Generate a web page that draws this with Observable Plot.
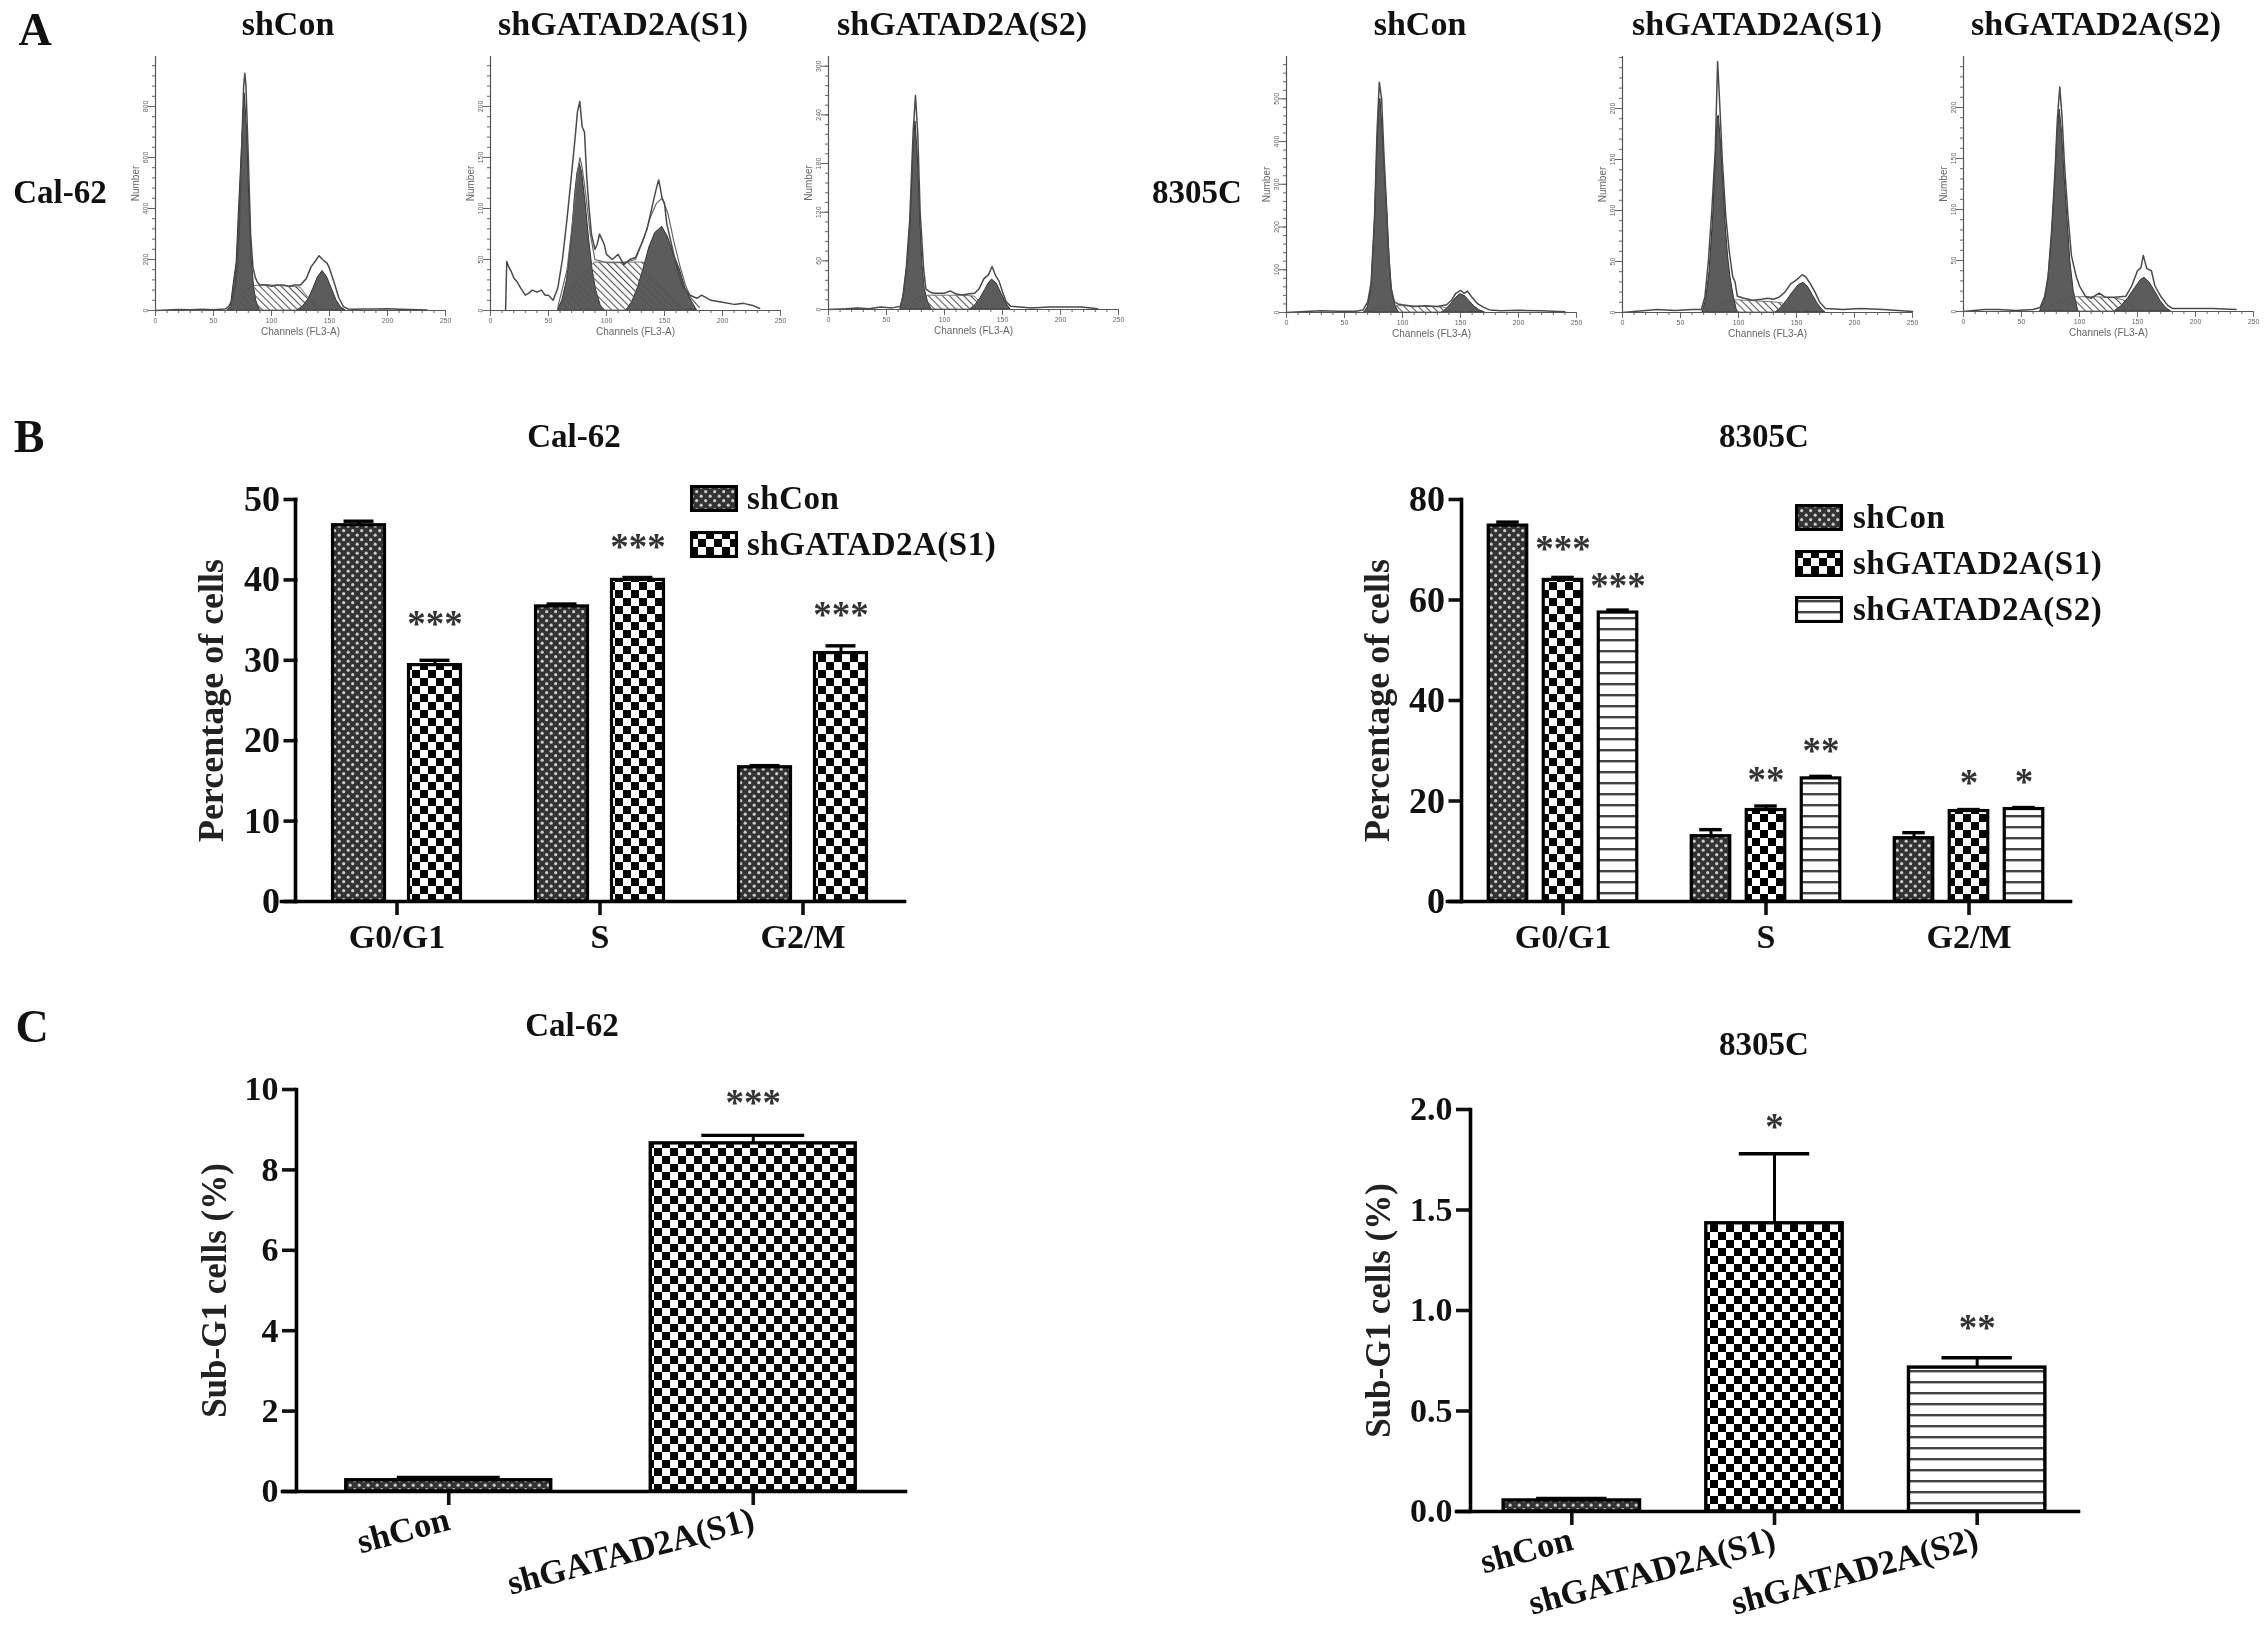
<!DOCTYPE html>
<html>
<head>
<meta charset="utf-8">
<script src="https://cdn.jsdelivr.net/npm/d3@7"></script>
<script src="https://cdn.jsdelivr.net/npm/@observablehq/plot@0.6"></script>
<style>
html,body{margin:0;padding:0;background:#fff}
#root{position:relative;width:2268px;height:1632px;overflow:hidden;font-family:"Liberation Serif",serif;font-weight:bold;color:#111;filter:blur(.55px)}
.lbl{position:absolute;white-space:nowrap;transform:translate(-50%,-50%);line-height:1}
.lbl.left{transform:translateY(-50%);letter-spacing:.5px}
.swatch{position:absolute}
</style>
</head>
<body>
<svg width="0" height="0" style="position:absolute">
  <defs>
    <pattern id="pCon" patternUnits="userSpaceOnUse" width="9" height="9">
      <rect width="9" height="9" fill="#333"/>
      <circle cx="2.2" cy="2.2" r="1.6" fill="#ccc"/>
      <circle cx="6.7" cy="6.7" r="1.6" fill="#ccc"/>
    </pattern>
    <pattern id="pS1" patternUnits="userSpaceOnUse" width="16" height="16">
      <rect width="16" height="16" fill="#fff"/>
      <rect width="8" height="8" fill="#000"/>
      <rect x="8" y="8" width="8" height="8" fill="#000"/>
    </pattern>
    <pattern id="pS2" patternUnits="userSpaceOnUse" width="11" height="11">
      <rect width="11" height="11" fill="#fff"/>
      <rect y="4" width="11" height="2.4" fill="#444"/>
    </pattern>
    <pattern id="pHatch" patternUnits="userSpaceOnUse" width="5" height="5" patternTransform="rotate(-45)">
      <rect x="0" y="0" width="1.1" height="5" fill="#555"/>
    </pattern>
  </defs>
</svg>
<div id="root"></div>
<script>
// ---------- Panel B / C data ----------
const phases = ["G0/G1", "S", "G2/M"];
const groupsAll = ["shCon", "shGATAD2A(S1)", "shGATAD2A(S2)"];
const groupsTwo = ["shCon", "shGATAD2A(S1)"];

const cycleCalValues = [[46.8, 29.4], [36.7, 40.0], [16.7, 30.9]];
const cycleCalErrors = [[47.3, 30.0], [37.0, 40.3], [16.9, 31.8]];
const cycleCalStars  = [[null, "***"], [null, "***"], [null, "***"]];
const cycleCalStarY  = [[null, 35.2], [null, 44.8], [null, 36.3]];
const cycleCalTicks  = [0, 10, 20, 30, 40, 50];

const cycle83Values = [[74.8, 64.0, 57.5], [13.0, 18.2, 24.5], [12.6, 18.0, 18.4]];
const cycle83Errors = [[75.5, 64.5, 58.0], [14.3, 19.0, 24.9], [13.7, 18.3, 18.7]];
const cycle83Stars  = [[null, "***", "***"], [null, "**", "**"], [null, "*", "*"]];
const cycle83StarY  = [[null, 71.4, 63.9], [null, 25.3, 31.2], [null, 24.8, 25.0]];
const cycle83Ticks  = [0, 20, 40, 60, 80];

const subCalValues = [0.28, 8.66];
const subCalErrors = [0.35, 8.86];
const subCalStars  = [null, "***"];
const subCalStarY  = [null, 9.8];
const subCalTicks  = [0, 2, 4, 6, 8, 10];

const sub83Values = [0.055, 1.434, 0.716];
const sub83Errors = [0.065, 1.78, 0.765];
const sub83Stars  = [null, "*", "**"];
const sub83StarY  = [null, 1.94, 0.94];
const sub83Ticks  = [0, 0.5, 1, 1.5, 2];

// ---------- Panel A data: [channel, count] ----------
const cal1G1 = [[62,0],[65,15],[67,90],[70,190],[72,400],[75,680],[77,850],[79,700],[81,420],[83,200],[85,90],[87,35],[90,0]];
const cal1S  = [[63,0],[68,30],[75,70],[84,95],[95,100],[110,95],[125,90],[130,60],[135,35],[142,15],[150,0]];
const cal1G2 = [[122,0],[127,15],[132,45],[136,85],[140,130],[144,155],[148,130],[152,85],[156,40],[160,12],[164,0]];
const cal1Raw = [[0,0],[10,2],[20,4],[30,3],[40,5],[50,3],[60,6],[63,15],[66,40],[69,100],[72,300],[74,600],[76,880],[77,930],[78,880],[80,600],[82,300],[84,170],[86,130],[88,110],[90,100],[95,100],[100,95],[105,100],[110,100],[115,95],[120,100],[125,100],[130,125],[134,170],[138,195],[141,215],[144,200],[148,185],[150,165],[154,110],[158,50],[162,15],[166,6],[170,5],[180,6],[190,6],[200,7],[210,5],[220,4],[234,2]];

const cal2G1 = [[58,0],[62,10],[66,30],[70,70],[73,115],[75,135],[77,144],[79,135],[82,105],[85,70],[88,40],[91,20],[95,5],[98,0]];
const cal2S  = [[58,0],[64,10],[72,25],[82,38],[90,47],[105,47],[120,47],[132,47],[140,33],[150,20],[160,7],[168,0]];
const cal2G2 = [[117,0],[122,8],[127,22],[132,41],[137,62],[142,76],[148,82],[153,72],[158,55],[163,41],[168,22],[173,10],[178,0]];
const cal2Fit = [[58,3],[66,40],[72,100],[75,135],[77,150],[79,140],[82,115],[86,75],[90,50],[100,47],[115,47],[125,50],[132,70],[138,92],[143,105],[148,110],[153,95],[158,68],[163,45],[168,25],[173,12],[180,3]];
const cal2Raw = [[13,0],[14,48],[16,42],[18,38],[20,32],[23,28],[26,22],[30,15],[33,17],[36,20],[40,18],[44,20],[47,15],[50,15],[54,10],[58,22],[62,50],[66,90],[70,135],[73,170],[75,195],[77,205],[79,180],[81,175],[83,130],[85,100],[87,75],[90,60],[92,65],[94,75],[96,70],[98,65],[100,55],[105,50],[110,55],[115,45],[120,50],[125,52],[130,65],[135,80],[140,105],[143,120],[145,128],[148,110],[150,105],[152,85],[156,65],[160,45],[165,25],[172,15],[178,12],[182,15],[190,10],[200,8],[210,6],[218,7],[226,5],[232,2]];

const cal3G1 = [[62,0],[65,20],[68,55],[71,115],[73,190],[75,232],[77,190],[79,115],[81,55],[83,25],[86,8],[89,0]];
const cal3S  = [[63,0],[68,5],[74,12],[80,15],[86,17],[100,17],[115,17],[126,16],[130,10],[136,5],[142,2],[148,0]];
const cal3G2 = [[122,0],[127,6],[131,14],[135,24],[138,32],[141,37],[145,32],[149,20],[153,8],[157,0]];
const cal3Raw = [[0,0],[15,1],[25,2],[35,1],[45,3],[55,2],[62,4],[64,15],[67,50],[70,110],[73,220],[75,264],[77,215],[79,120],[82,50],[84,25],[87,22],[90,20],[95,20],[100,20],[105,23],[110,19],[115,18],[120,19],[126,20],[130,26],[134,38],[138,43],[141,53],[144,42],[147,35],[150,22],[153,10],[157,4],[165,3],[175,2],[190,3],[205,3],[218,3],[232,1]];

const e1G1 = [[67,0],[70,12],[73,50],[76,200],[78,360],[80,490],[81,500],[83,420],[85,320],[87,230],[89,120],[91,50],[94,15],[97,0]];
const e1S  = [[68,0],[75,6],[85,12],[94,15],[110,14],[125,13],[135,12],[140,8],[146,4],[152,2],[158,0]];
const e1G2 = [[134,0],[138,8],[142,20],[146,34],[150,43],[154,38],[158,26],[162,14],[166,6],[171,0]];
const e1Raw = [[0,0],[20,3],[30,4],[45,3],[60,3],[66,6],[70,25],[73,70],[76,230],[78,420],[80,539],[82,500],[84,370],[86,260],[88,140],[90,60],[93,25],[96,20],[100,18],[110,14],[120,16],[130,14],[138,18],[142,28],[146,45],[150,52],[153,45],[156,50],[160,35],[165,20],[170,12],[175,6],[185,4],[200,5],[220,4],[240,2]];

const e2G1 = [[69,0],[72,12],[75,40],[78,90],[80,140],[82,190],[83,193],[85,165],[87,125],[89,85],[91,55],[93,35],[96,15],[99,0]];
const e2S  = [[70,0],[80,6],[90,12],[98,12],[115,11],[130,10],[138,9],[144,5],[150,2],[156,0]];
const e2G2 = [[132,0],[137,5],[142,12],[147,20],[152,27],[156,29],[160,25],[164,17],[168,9],[172,3],[175,0]];
const e2Raw = [[0,0],[20,2],[30,3],[45,2],[60,3],[68,3],[71,15],[74,50],[77,100],[80,160],[82,246],[84,200],[86,150],[89,95],[92,60],[95,35],[97,30],[99,16],[105,14],[112,12],[120,13],[125,14],[130,13],[135,15],[140,20],[145,28],[150,32],[155,37],[158,35],[162,28],[166,20],[170,10],[175,4],[190,3],[205,4],[225,3],[250,1]];

const e3G1 = [[66,0],[70,10],[73,30],[76,70],[79,125],[81,175],[83,198],[85,175],[87,135],[90,85],[92,50],[95,20],[99,0]];
const e3S  = [[68,0],[78,7],[90,14],[100,14],[115,14],[130,13],[138,11],[145,6],[152,2],[160,0]];
const e3G2 = [[130,0],[136,5],[142,13],[148,23],[153,31],[156,33],[160,29],[165,20],[170,10],[175,3],[179,0]];
const e3Raw = [[0,0],[18,2],[30,2],[45,1],[60,2],[66,4],[70,15],[73,35],[76,80],[79,140],[81,190],[83,220],[85,190],[87,145],[90,95],[93,55],[97,35],[100,25],[105,15],[110,13],[117,18],[122,14],[130,14],[140,15],[145,25],[150,40],[153,43],[155,55],[158,42],[162,40],[165,25],[170,15],[176,6],[180,3],[195,3],[215,3],[235,2]];

const flowXTicks = [0, 50, 100, 150, 200, 250];
const flowXMinor = [0,10,20,30,40,50,60,70,80,90,100,110,120,130,140,150,160,170,180,190,200,210,220,230,240,250];

const flowPanels = [
  {axisX:155,  base:310, top:56, yMax:996, yTicks:[0,200,400,600,800], g1:cal1G1, s:cal1S, g2:cal1G2, raw:cal1Raw},
  {axisX:490,  base:310, top:56, yMax:249, yTicks:[0,50,100,150,200],  g1:cal2G1, s:cal2S, g2:cal2G2, raw:cal2Raw, fit:cal2Fit},
  {axisX:828,  base:309, top:56, yMax:312, yTicks:[0,60,120,180,240,300], g1:cal3G1, s:cal3S, g2:cal3G2, raw:cal3Raw},
  {axisX:1286, base:312, top:56, yMax:599, yTicks:[0,100,200,300,400,500], g1:e1G1, s:e1S, g2:e1G2, raw:e1Raw},
  {axisX:1622, base:312, top:56, yMax:251, yTicks:[0,50,100,150,200], g1:e2G1, s:e2S, g2:e2G2, raw:e2Raw},
  {axisX:1963, base:311, top:56, yMax:250, yTicks:[0,50,100,150,200], g1:e3G1, s:e3S, g2:e3G2, raw:e3Raw}
];

// ---------- helpers ----------
const root = document.getElementById("root");
const FONT = '"Liberation Serif", serif';
const fills = {domain: groupsAll, range: ["url(#pCon)", "url(#pS1)", "url(#pS2)"]};
const AXW = 3.6;

function label(text, x, y, size, cls = "") {
  const d = document.createElement("div");
  d.className = "lbl " + cls;
  d.textContent = text;
  d.style.left = x + "px";
  d.style.top = y + "px";
  d.style.fontSize = size + "px";
  root.appendChild(d);
}
function place(plot, left, top) {
  plot.style.position = "absolute";
  plot.style.left = left + "px";
  plot.style.top = top + "px";
  root.appendChild(plot);
}
function legend(items, x, textX, ys) {
  items.forEach((g, i) => {
    const ns = "http://www.w3.org/2000/svg";
    const s = document.createElementNS(ns, "svg");
    s.setAttribute("class", "swatch");
    s.setAttribute("width", 48); s.setAttribute("height", 27);
    s.style.left = x + "px"; s.style.top = (ys[i] - 13) + "px";
    const r = document.createElementNS(ns, "rect");
    r.setAttribute("x", 1.5); r.setAttribute("y", 1.5);
    r.setAttribute("width", 45); r.setAttribute("height", 24);
    r.setAttribute("fill", fills.range[groupsAll.indexOf(g)]);
    r.setAttribute("stroke", "#000"); r.setAttribute("stroke-width", 3.2);
    s.appendChild(r);
    root.appendChild(s);
    label(g, textX, ys[i], 33, "left");
  });
}

function cyclePanel(c) {
  const rows = phases.flatMap((p, i) => c.groups.map((g, j) => ({
    phase: p, group: g, value: c.values[i][j], err: c.errors[i][j], star: c.stars[i][j], starY: c.starY[i][j]
  })));
  const plot = Plot.plot({
    width: c.right - c.left, height: c.bottom - c.top,
    marginLeft: c.x0 - c.left, marginRight: c.right - c.x1,
    marginTop: c.yTop - c.top, marginBottom: c.bottom - c.yBase,
    style: {fontFamily: FONT, fontWeight: "bold", fontSize: "33px", color: "#111", background: "none", overflow: "visible"},
    fx: {domain: phases, range: [c.fxStart - c.left, c.fxStart - c.left + 609], padding: 0, label: null, axis: null},
    x: {domain: c.groups, paddingInner: c.pi, paddingOuter: c.po, round: false, axis: null},
    y: {domain: c.yDomain, axis: null},
    color: fills,
    marks: [
      Plot.ruleX(rows, {fx: "phase", x: "group", y1: "value", y2: "err", strokeWidth: 3, stroke: "#000"}),
      Plot.tickY(rows, {fx: "phase", x: "group", y: "err", strokeWidth: 3.4, stroke: "#000", insetLeft: c.capInset, insetRight: c.capInset}),
      Plot.barY(rows, {fx: "phase", x: "group", y: "value", fill: "group", stroke: "#000", strokeWidth: 3.2}),
      Plot.text(rows.filter(d => d.star), {fx: "phase", x: "group", y: "starY", text: "star", fontSize: 37, fill: "#333", dy: 6}),
      Plot.axisFx({anchor: "bottom", label: null, tickSize: 14, tickPadding: 8, strokeWidth: AXW, fontSize: 34}),
      Plot.axisY({ticks: c.ticks, tickSize: 14, tickPadding: 4, strokeWidth: AXW, label: null, fontSize: 36, dx: c.x0 - c.fxStart}),
      Plot.frame({anchor: "left", strokeWidth: AXW, stroke: "#000", facet: "super"}),
      Plot.frame({anchor: "bottom", strokeWidth: AXW, stroke: "#000", facet: "super", insetLeft: -14}),
      Plot.text([c.yLabel], {frameAnchor: "left", textAnchor: "middle", rotate: -90, dx: -84, fontSize: 36, fill: "#222", facet: "super"})
    ]
  });
  place(plot, c.left, c.top);
}

function subPanel(c) {
  const rows = c.groups.map((g, j) => ({group: g, value: c.values[j], err: c.errors[j], star: c.stars[j], starY: c.starY[j]}));
  const plot = Plot.plot({
    width: c.right - c.left, height: c.bottom - c.top,
    marginLeft: c.x0 - c.left, marginRight: c.right - c.x1,
    marginTop: c.yTop - c.top, marginBottom: c.bottom - c.yBase,
    style: {fontFamily: FONT, fontWeight: "bold", fontSize: "33px", color: "#111", background: "none", overflow: "visible"},
    x: {domain: c.groups, paddingInner: c.pi, paddingOuter: c.pi / 2, round: false, axis: null},
    y: {domain: c.yDomain, axis: null},
    color: fills,
    marks: [
      Plot.ruleX(rows, {x: "group", y1: "value", y2: "err", strokeWidth: 3, stroke: "#000"}),
      Plot.tickY(rows, {x: "group", y: "err", strokeWidth: 3.4, stroke: "#000", insetLeft: c.capInset, insetRight: c.capInset}),
      Plot.barY(rows, {x: "group", y: "value", fill: "group", stroke: "#000", strokeWidth: 3.4}),
      Plot.text(rows.filter(d => d.star), {x: "group", y: "starY", text: "star", fontSize: 37, fill: "#333", dy: 6}),
      Plot.axisX({anchor: "bottom", label: null, tickSize: 14, tickPadding: 13, tickRotate: -15, strokeWidth: AXW, fontSize: 34.5}),
      Plot.axisY({ticks: c.ticks, tickFormat: c.fmt, tickSize: 14, tickPadding: 4, strokeWidth: AXW, label: null, fontSize: 34}),
      Plot.frame({anchor: "left", strokeWidth: AXW, stroke: "#000"}),
      Plot.frame({anchor: "bottom", strokeWidth: AXW, stroke: "#000", insetLeft: -14}),
      Plot.text([c.yLabel], {frameAnchor: "left", textAnchor: "middle", rotate: -90, dx: c.labelDx, fontSize: 35, fill: "#222"})
    ]
  });
  place(plot, c.left, c.top);
}

function flowPanel(p) {
  const left = p.axisX - 36, top = p.top - 16;
  const bottom = p.base + 32, right = p.axisX + 300;
  const major = p.yTicks[1] - p.yTicks[0];
  const yMinor = d3.range(0, p.yMax, major / 5);
  const plot = Plot.plot({
    width: right - left, height: bottom - top,
    marginLeft: 36, marginRight: 10, marginTop: 16, marginBottom: 32,
    style: {fontFamily: '"Liberation Sans", sans-serif', fontWeight: "normal", fontSize: "8px", color: "#666", background: "none", overflow: "visible", filter: "blur(.4px)"},
    x: {domain: [0, 250], axis: null},
    y: {domain: [0, p.yMax], axis: null},
    marks: [
      Plot.areaY(p.g1, {x: d => d[0], y: d => d[1], fill: "#5c5c5c", stroke: "#333", strokeWidth: 1}),
      Plot.areaY(p.g2, {x: d => d[0], y: d => d[1], fill: "#5c5c5c", stroke: "#333", strokeWidth: 1}),
      Plot.areaY(p.s,  {x: d => d[0], y: d => d[1], fill: "url(#pHatch)", stroke: "#555", strokeWidth: .8}),
      p.fit ? Plot.line(p.fit, {x: d => d[0], y: d => d[1], stroke: "#666", strokeWidth: 1.2}) : null,
      Plot.line(p.raw, {x: d => d[0], y: d => d[1], stroke: "#4a4a4a", strokeWidth: 1.5}),
      Plot.axisX({ticks: flowXMinor, tickSize: 3, tickFormat: () => null, stroke: "#666", label: null}),
      Plot.axisX({ticks: flowXTicks, tickSize: 6, tickPadding: 2, stroke: "#666", fill: "#666", label: null, fontSize: 7}),
      Plot.axisY({ticks: yMinor, tickSize: 3, tickFormat: () => null, stroke: "#666", label: null}),
      Plot.axisY({ticks: p.yTicks, tickSize: 7, tickPadding: 1, stroke: "#666", fill: "#666", label: null, tickRotate: -90, fontSize: 7}),
      Plot.ruleX([0], {stroke: "#555", strokeWidth: 1.2}),
      Plot.ruleY([0], {stroke: "#555", strokeWidth: 1.2}),
      Plot.text(["Channels (FL3-A)"], {frameAnchor: "bottom", dy: 24, x: [125], fontSize: 10, fill: "#666"}),
      Plot.text(["Number"], {frameAnchor: "left", textAnchor: "middle", rotate: -90, dx: -20, dy: 0, fontSize: 10, fill: "#666"})
    ]
  });
  place(plot, left, top);
}

// ---------- draw ----------
flowPanels.forEach(flowPanel);

cyclePanel({left: 150, top: 470, right: 950, bottom: 980, x0: 297, x1: 906, yTop: 499, yBase: 901, fxStart: 294.5,
  groups: groupsTwo, values: cycleCalValues, errors: cycleCalErrors, stars: cycleCalStars, starY: cycleCalStarY,
  yDomain: [0, 50], ticks: cycleCalTicks, pi: .316, po: .494, capInset: 11, yLabel: "Percentage of cells"});
cyclePanel({left: 1310, top: 470, right: 2110, bottom: 980, x0: 1462, x1: 2071, yTop: 499, yBase: 901, fxStart: 1460.5,
  groups: groupsAll, values: cycle83Values, errors: cycle83Errors, stars: cycle83Stars, starY: cycle83StarY,
  yDomain: [0, 80], ticks: cycle83Ticks, pi: .3, po: .495, capInset: 8, yLabel: "Percentage of cells"});
subPanel({left: 150, top: 1060, right: 950, bottom: 1632, x0: 296, x1: 905, yTop: 1089, yBase: 1491,
  groups: groupsTwo, values: subCalValues, errors: subCalErrors, stars: subCalStars, starY: subCalStarY,
  yDomain: [0, 10], ticks: subCalTicks, fmt: d3.format("d"), pi: .327, capInset: 51, yLabel: "Sub-G1 cells (%)", labelDx: -82});
subPanel({left: 1310, top: 1080, right: 2110, bottom: 1632, x0: 1470, x1: 2078, yTop: 1109, yBase: 1511,
  groups: groupsAll, values: sub83Values, errors: sub83Errors, stars: sub83Stars, starY: sub83StarY,
  yDomain: [0, 2], ticks: sub83Ticks, fmt: d3.format(".1f"), pi: .327, capInset: 33, yLabel: "Sub-G1 cells (%)", labelDx: -92});

// ---------- text ----------
label("A", 35, 30, 46); label("B", 29, 437, 46); label("C", 32, 1027, 46);
label("Cal-62", 60, 192, 33); label("8305C", 1197, 192, 33);
[["shCon", 288], ["shGATAD2A(S1)", 623], ["shGATAD2A(S2)", 962],
 ["shCon", 1420], ["shGATAD2A(S1)", 1757], ["shGATAD2A(S2)", 2096]].forEach(([t, x]) => label(t, x, 24, 34));
label("Cal-62", 574, 436, 33); label("8305C", 1764, 436, 33);
label("Cal-62", 572, 1025, 33); label("8305C", 1764, 1044, 33);
legend(groupsTwo, 690, 747, [498, 544]);
legend(groupsAll, 1795, 1853, [517, 563, 609]);
</script>
</body>
</html>
